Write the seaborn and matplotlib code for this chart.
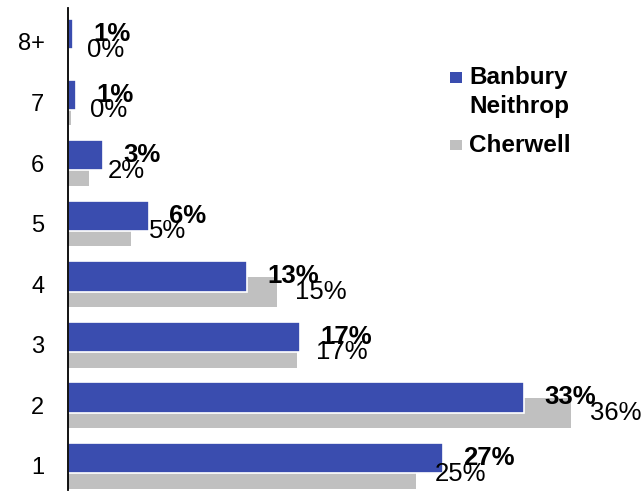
import matplotlib
matplotlib.use("Agg")
import matplotlib.pyplot as plt
import seaborn as sns
import numpy as np
from matplotlib.patches import Rectangle

categories = ["1", "2", "3", "4", "5", "6", "7", "8+"]
banbury = [27.0, 32.8, 16.7, 12.9, 5.8, 2.5, 0.6, 0.35]
cherwell = [25.0, 36.2, 16.5, 15.0, 4.5, 1.5, 0.2, 0.0]
banbury_labels = ["27%", "33%", "17%", "13%", "6%", "3%", "1%", "1%"]
cherwell_labels = ["25%", "36%", "17%", "15%", "5%", "2%", "0%", "0%"]
series_names = ["Banbury\nNeithrop", "Cherwell"]

BLUE = "#3A4DAF"
GREY = "#C0C0C0"

sns.set_theme(style="white")
plt.rcParams["font.family"] = ["Liberation Sans", "DejaVu Sans"]
plt.rcParams["text.color"] = "black"
plt.rcParams["ytick.color"] = "black"

W, H = 642, 493
fig = plt.figure(figsize=(W / 100, H / 100), dpi=100)
ax = fig.add_axes([68 / W, 3 / H, 572 / W, 482 / H])

pos = np.arange(len(categories))
off = 0.128
sns.barplot(x=cherwell, y=pos - off, orient="y", native_scale=True, width=0.5,
            color=GREY, saturation=1, errorbar=None, ax=ax, linewidth=0)
sns.barplot(x=banbury, y=pos + off, orient="y", native_scale=True, width=0.5,
            color=BLUE, saturation=1, errorbar=None, ax=ax,
            edgecolor="white", linewidth=1.2)

for i in range(len(categories)):
    ax.annotate(banbury_labels[i], (banbury[i], pos[i] + off), xytext=(14.5, 0),
                textcoords="offset points", ha="left", va="center",
                fontsize=18.5, fontweight="bold", color="black")
    ax.annotate(cherwell_labels[i], (cherwell[i], pos[i] - off), xytext=(13.5, 0),
                textcoords="offset points", ha="left", va="center",
                fontsize=18.5, color="black")

ax.set_xlim(0, 41.15)
ax.set_ylim(-0.4, 7.56)
ax.set_yticks(pos)
ax.set_yticklabels(categories, fontsize=17, color="black")
ax.tick_params(axis="y", length=0, pad=17)
ax.set_xticks([])
ax.set_xlabel("")
ax.set_ylabel("")
for s in ["top", "right", "bottom"]:
    ax.spines[s].set_visible(False)
ax.spines["left"].set_color("black")
ax.spines["left"].set_linewidth(1.3)

# legend (manual, to align the marker with the first label line)
legend_items = [(series_names[0], BLUE, 72.5, 84), (series_names[1], GREY, 140, 152)]
for name, col, sq_top, base in legend_items:
    fig.add_artist(Rectangle((450 / W, 1 - (sq_top + 10) / H), 12 / W, 10 / H,
                             transform=fig.transFigure, facecolor=col, edgecolor="none"))
    lines = name.split("\n")
    for k, line in enumerate(lines):
        fig.text(469 / W, 1 - (base + 29 * k) / H, line, ha="left", va="baseline",
                 fontsize=17.5, fontweight="bold", color="black")

fig.savefig("out.png", dpi=100)
